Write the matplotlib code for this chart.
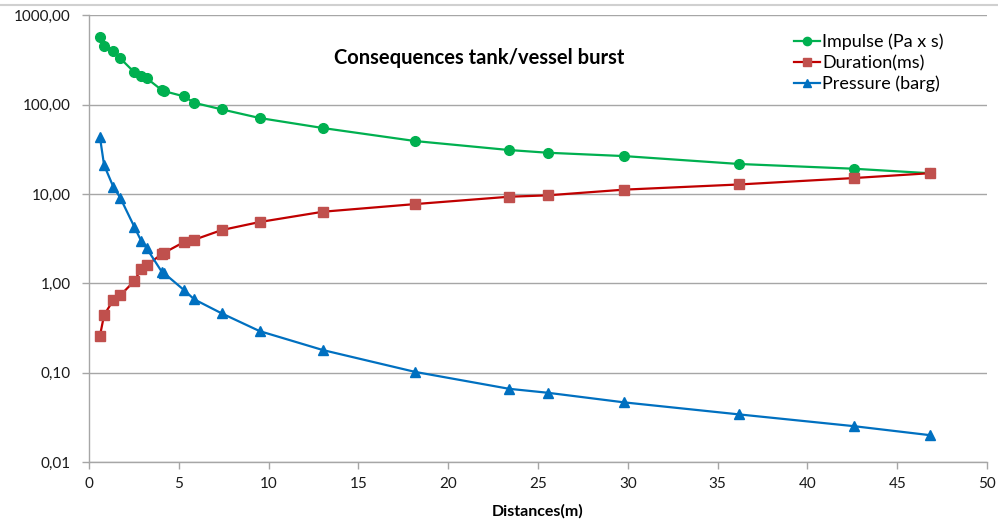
import matplotlib.pyplot as plt
from matplotlib.ticker import FixedLocator, FuncFormatter, NullLocator
from matplotlib.lines import Line2D

# distances (m), shared by all three series
distance = [0.61, 0.84, 1.35, 1.74, 2.52, 2.9, 3.21, 4.05, 4.18, 5.29, 5.86,
            7.39, 9.5, 13.03, 18.16, 23.39, 25.54, 29.8, 36.2, 42.58, 46.8]

impulse = [569, 458, 403, 331, 231, 210, 198, 146, 142, 124, 105,
           88.7, 71, 54.8, 39.2, 31.1, 29, 26.6, 21.7, 19.2, 17.1]

duration = [0.259, 0.441, 0.65, 0.734, 1.06, 1.44, 1.6, 2.12, 2.2, 2.9, 3.08,
            3.95, 4.86, 6.34, 7.72, 9.33, 9.67, 11.2, 12.8, 15.1, 17.1]

pressure = [43.2, 21.1, 12.1, 9.09, 4.31, 3.0, 2.47, 1.35, 1.3, 0.841, 0.662,
            0.461, 0.292, 0.179, 0.102, 0.066, 0.0596, 0.0465, 0.0341, 0.0252, 0.02]

x_ticks = [0, 5, 10, 15, 20, 25, 30, 35, 40, 45, 50]
y_ticks = [0.01, 0.1, 1, 10, 100, 1000]

plt.rcParams['font.family'] = ['Lato', 'DejaVu Sans']

fig = plt.figure(figsize=(9.98, 5.2), dpi=100)
ax = fig.add_axes([89/998, 1 - 462/520, 898/998, (462 - 15.4)/520])

green = '#00B050'
red_line = '#C00000'
red_mark = '#C0504D'
blue = '#0070C0'

ax.plot(distance, impulse, color=green, lw=1.6, marker='o', ms=7,
        markerfacecolor=green, markeredgecolor=green, label='Impulse (Pa x s)')
ax.plot(distance, duration, color=red_line, lw=1.6, marker='s', ms=6.5,
        markerfacecolor=red_mark, markeredgecolor=red_mark, label='Duration(ms)')
ax.plot(distance, pressure, color=blue, lw=1.6, marker='^', ms=7,
        markerfacecolor=blue, markeredgecolor=blue, label='Pressure (barg)')

ax.set_yscale('log')
ax.set_xlim(0, 50)
ax.set_ylim(0.01, 1000)
ax.xaxis.set_major_locator(FixedLocator(x_ticks))
ax.yaxis.set_major_locator(FixedLocator(y_ticks))
ax.yaxis.set_minor_locator(NullLocator())
ax.yaxis.set_major_formatter(FuncFormatter(lambda v, p: ('%.2f' % v).replace('.', ',')))

ax.grid(axis='y', color='#A6A6A6', lw=1)
ax.set_axisbelow(True)
for s in ['top', 'right']:
    ax.spines[s].set_visible(False)
for s in ['left', 'bottom']:
    ax.spines[s].set_color('#A6A6A6')
    ax.spines[s].set_linewidth(1)
ax.tick_params(axis='both', colors='#A6A6A6', labelcolor='#1a1a1a', labelsize=11,
               length=5, width=1, direction='out')
ax.tick_params(axis='y', pad=8)
ax.tick_params(axis='x', pad=6)

ax.set_xlabel('Distances(m)', fontsize=11.5, fontweight='bold', labelpad=9)
ax.text(0.435, 0.905, 'Consequences tank/vessel burst', transform=ax.transAxes,
        ha='center', va='center', fontsize=14.5, fontweight='bold')

ax.legend(loc='upper right', bbox_to_anchor=(0.97, 0.995), frameon=False,
          fontsize=13, handlelength=1.4, handletextpad=0.15, labelspacing=0.25,
          markerscale=0.85)

# sheet border line above the chart
fig.add_artist(Line2D([0, 1], [1 - 5/520, 1 - 5/520], color='#D0D0D0', lw=1.5))

fig.savefig('out.png', dpi=100)
